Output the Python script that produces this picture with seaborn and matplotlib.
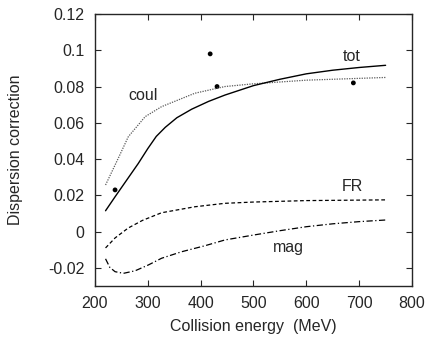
import numpy as np
import pandas as pd
import matplotlib
matplotlib.use("Agg")
import matplotlib.pyplot as plt
import seaborn as sns

# energies (MeV) and curve values
e_tot = [220, 238, 260, 282, 300, 316, 333, 355, 383, 415, 446, 500, 550, 600, 650, 700, 750]
tot = [0.0115, 0.0192, 0.0284, 0.0376, 0.0458, 0.0525, 0.0575, 0.0628, 0.0675, 0.0718, 0.0753,
       0.0805, 0.084, 0.087, 0.089, 0.0905, 0.0917]

e_coul = [220, 244, 263, 295, 326, 389, 446, 500, 600, 750]
coul = [0.0257, 0.0404, 0.0523, 0.0634, 0.0689, 0.0763, 0.080, 0.0815, 0.0835, 0.085]

e_fr = [220, 238, 263, 290, 326, 389, 446, 500, 600, 750]
fr = [-0.009, -0.0035, 0.002, 0.0062, 0.0104, 0.0137, 0.0156, 0.0163, 0.0171, 0.0175]

e_mag = [220, 228, 238, 254, 276, 301, 326, 364, 408, 446, 500, 550, 600, 650, 700, 750]
mag = [-0.0150, -0.0197, -0.0221, -0.0230, -0.0216, -0.0184, -0.0147, -0.0111, -0.0078, -0.0046,
       -0.0019, 0.0005, 0.0027, 0.0043, 0.0055, 0.0064]

e_pts = [238, 418, 431, 689]
pts = [0.023, 0.098, 0.080, 0.082]

sns.set_style("ticks")
plt.rcParams["font.family"] = ["Liberation Sans", "DejaVu Sans"]
fs = 11.5

fig = plt.figure(figsize=(4.29, 3.37), dpi=100)
ax = fig.add_axes([0.2214, 0.1513, 0.739, 0.8072])

sns.lineplot(x=e_coul, y=coul, ax=ax, color="0.35", lw=0.9, linestyle=(0, (1, 1)))
sns.lineplot(x=e_tot, y=tot, ax=ax, color="black", lw=1.0)
sns.lineplot(x=e_fr, y=fr, ax=ax, color="black", lw=0.9, linestyle=(0, (3, 2)))
sns.lineplot(x=e_mag, y=mag, ax=ax, color="black", lw=0.9, linestyle=(0, (5, 2, 1, 2)))
sns.scatterplot(x=e_pts, y=pts, ax=ax, color="black", s=12, edgecolor="none")

ax.text(291, 0.0748, "coul", ha="center", va="center", fontsize=fs)
ax.text(685, 0.0963, "tot", ha="center", va="center", fontsize=fs)
ax.text(687, 0.0246, "FR", ha="center", va="center", fontsize=fs)
ax.text(567, -0.0085, "mag", ha="center", va="center", fontsize=fs)

ax.set_xlim(200, 800)
ax.set_ylim(-0.03, 0.12)
ax.set_xticks([200, 300, 400, 500, 600, 700, 800])
ax.set_yticks([-0.02, 0, 0.02, 0.04, 0.06, 0.08, 0.1, 0.12])
ax.set_yticklabels(["-0.02", "0", "0.02", "0.04", "0.06", "0.08", "0.1", "0.12"])
ax.tick_params(direction="in", top=True, right=True, labelsize=fs, length=4, width=0.8, pad=7.5)
for s in ax.spines.values():
    s.set_visible(True)
    s.set_linewidth(1.0)
ax.set_xlabel("Collision energy  (MeV)", fontsize=fs)
ax.set_ylabel("Dispersion correction", fontsize=fs)
ax.xaxis.set_label_coords(0.5, -0.122)
ax.yaxis.set_label_coords(-0.226, 0.5)

fig.savefig("out.png", dpi=100)
